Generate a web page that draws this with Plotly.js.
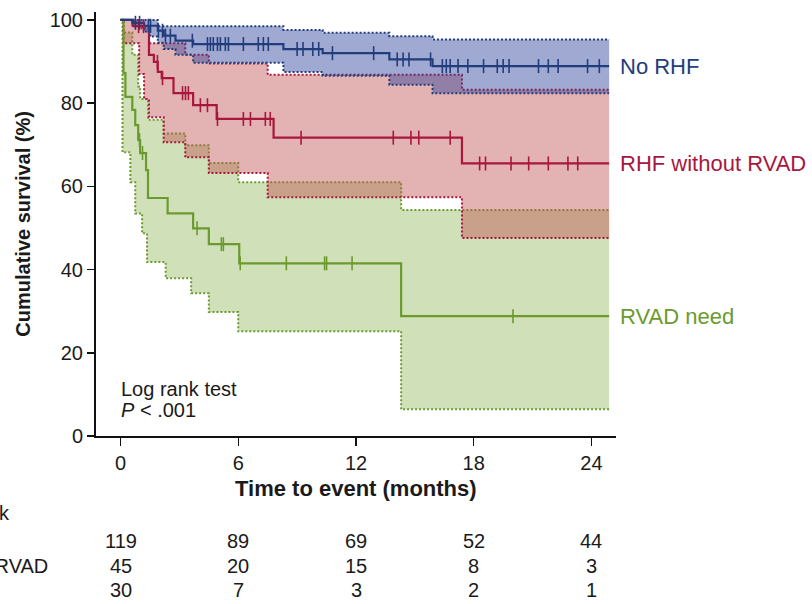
<!DOCTYPE html>
<html>
<head>
<meta charset="utf-8">
<script src="https://cdn.plot.ly/plotly-3.0.1.min.js"></script>
<style>html,body{margin:0;padding:0;background:#fff;}#chart{width:812px;height:604px;}</style>
</head>
<body>
<div id="chart"></div>
<script>
// ---- data (months, cumulative survival %) ----
const noRhfTime = [0, 0.6, 1.2, 1.9, 2.2, 2.8, 3.7, 8.3, 10.3, 13.7, 15.9, 24.9];
const noRhfSurv = [100, 99.3, 98.6, 97.4, 96.2, 95.0, 94.2, 93.0, 92.0, 90.5, 88.9, 88.9];
const noRhfUpperTime = [0, 1.9, 8.3, 10.3, 13.7, 15.9, 24.9];
const noRhfUpper = [100, 98.5, 97.6, 96.9, 96.1, 95.3, 95.3];
const noRhfLowerTime = [0, 0.6, 1.2, 1.5, 1.9, 2.2, 2.8, 3.7, 8.3, 10.3, 13.7, 15.9, 24.9];
const noRhfLower = [100, 98.5, 97.2, 96.0, 94.5, 93.0, 91.6, 89.7, 87.5, 86.6, 84.4, 82.4, 82.4];
const noRhfCensor = [0.76, 0.97, 1.42, 1.53, 1.93, 2.14, 2.29, 2.54, 3.66, 4.43, 4.58, 4.73, 4.94, 5.09, 5.34, 5.5, 6.26, 7.02, 7.28, 7.53, 9.0, 9.3, 9.8, 10.1, 10.8, 12.9, 14.1, 14.4, 14.7, 15.8, 16.4, 16.6, 16.8, 17.2, 17.7, 18.5, 19.2, 19.5, 19.8, 21.3, 21.8, 22.3, 23.8, 24.4];

const rhfTime = [0, 0.65, 1.45, 1.7, 1.9, 2.1, 2.7, 3.7, 4.9, 7.8, 17.4, 24.9];
const rhfSurv = [100, 98.5, 91.6, 89.9, 87.5, 86.0, 82.4, 79.5, 76.2, 71.7, 65.5, 65.5];
const rhfUpperTime = [0, 0.65, 1.1, 1.45, 3.3, 4.5, 7.5, 17.4, 24.9];
const rhfUpper = [100, 99.5, 98.0, 94.4, 91.6, 89.5, 86.8, 83.2, 83.2];
const rhfLowerTime = [0, 0.15, 0.95, 1.2, 1.45, 2.2, 3.3, 4.5, 7.5, 17.4, 24.9];
const rhfLower = [100, 94.4, 87.0, 81.0, 76.6, 70.6, 67.0, 63.2, 57.4, 47.6, 47.6];
const rhfCensor = [0.92, 1.17, 1.88, 2.14, 3.16, 3.31, 3.46, 4.07, 4.43, 4.94, 6.26, 6.62, 7.38, 7.63, 9.2, 13.9, 14.8, 15.2, 16.8, 18.3, 18.6, 19.9, 20.8, 21.8, 22.8, 23.3];

const rvadTime = [0, 0.15, 0.25, 0.6, 0.75, 0.9, 1.0, 1.3, 1.4, 2.4, 3.7, 4.5, 6.05, 14.3, 24.9];
const rvadSurv = [100, 87.2, 81.5, 78.4, 74.7, 71.1, 68.0, 63.9, 57.2, 53.5, 49.9, 46.1, 41.5, 28.8, 28.8];
const rvadUpperTime = [0, 0.15, 0.6, 0.9, 1.0, 1.4, 2.2, 3.3, 4.5, 6.0, 14.3, 24.9];
const rvadUpper = [100, 97.0, 91.6, 84.0, 81.0, 76.0, 72.7, 69.9, 65.6, 61.0, 54.3, 54.3];
const rvadLowerTime = [0, 0.1, 0.5, 0.75, 1.1, 1.35, 2.3, 3.6, 4.5, 6.0, 14.3, 24.9];
const rvadLower = [100, 68.2, 61.0, 53.5, 48.7, 41.8, 37.9, 34.3, 29.8, 25.2, 6.4, 6.4];
const rvadCensor = [0.97, 1.12, 3.9, 5.14, 5.24, 6.1, 8.45, 10.4, 10.5, 11.8, 20.0];

const groupNames = ["No RHF", "RHF without RVAD", "RVAD need"];
const riskTimes = [0, 6, 12, 18, 24];
const riskNoRhf = [119, 89, 69, 52, 44];
const riskRhf = [45, 20, 15, 8, 3];
const riskRvad = [30, 7, 3, 2, 1];
const xTicks = [0, 6, 12, 18, 24];
const yTicks = [0, 20, 40, 60, 80, 100];

// ---- styling ----
const FONT = "Liberation Sans, Arial, Helvetica, sans-serif";
const cBlue = "#223d7c", cRed = "#a8173d", cGreen = "#6b9a2e";
const fBlue = "rgba(45,65,155,0.45)", fRed = "rgba(192,85,85,0.45)", fGreen = "rgba(150,186,100,0.45)";

function stepAt(ts, vs, t) {
  let v = vs[0];
  for (let i = 0; i < ts.length; i++) { if (ts[i] <= t) v = vs[i]; }
  return v;
}

function band(ut, uv, lt, lv, lineColor, fillColor) {
  return [
    {x: ut, y: uv, type: "scatter", mode: "lines", line: {shape: "hv", color: lineColor, width: 2, dash: "2px,2px"}, hoverinfo: "skip"},
    {x: lt, y: lv, type: "scatter", mode: "lines", fill: "tonexty", fillcolor: fillColor, line: {shape: "hv", color: lineColor, width: 2, dash: "2px,2px"}, hoverinfo: "skip"}
  ];
}
function curve(t, s, color) {
  return {x: t, y: s, type: "scatter", mode: "lines", line: {shape: "hv", color: color, width: 2.2}};
}
function censor(ct, t, s, color) {
  return {x: ct, y: ct.map(c => stepAt(t, s, c)), type: "scatter", mode: "markers",
    marker: {symbol: "line-ns", size: 10, color: color, line: {color: color, width: 1.6}}};
}

const traces = [].concat(
  band(rvadUpperTime, rvadUpper, rvadLowerTime, rvadLower, cGreen, fGreen),
  band(rhfUpperTime, rhfUpper, rhfLowerTime, rhfLower, cRed, fRed),
  band(noRhfUpperTime, noRhfUpper, noRhfLowerTime, noRhfLower, cBlue, fBlue),
  [curve(rvadTime, rvadSurv, cGreen), curve(rhfTime, rhfSurv, cRed), curve(noRhfTime, noRhfSurv, cBlue),
   censor(rvadCensor, rvadTime, rvadSurv, cGreen), censor(rhfCensor, rhfTime, rhfSurv, cRed), censor(noRhfCensor, noRhfTime, noRhfSurv, cBlue)]
);

const ann = [];
// group labels at right, at final survival value
[[groupNames[0], noRhfSurv, cBlue], [groupNames[1], rhfSurv, cRed], [groupNames[2], rvadSurv, cGreen]].forEach(g => {
  ann.push({xref: "paper", yref: "y", x: 1.003, y: g[1][g[1].length - 1], text: g[0], showarrow: false,
    xanchor: "left", yanchor: "middle", font: {family: FONT, size: 22, color: g[2]}});
});
ann.push({xref: "x", yref: "paper", x: -0.1, y: 0.112, text: "Log rank test", showarrow: false, xanchor: "left", yanchor: "middle",
  font: {family: FONT, size: 20, color: "#1a1a1a"}});
ann.push({xref: "x", yref: "paper", x: -0.1, y: 0.061, text: "<i>P</i> < .001", showarrow: false, xanchor: "left", yanchor: "middle",
  font: {family: FONT, size: 20, color: "#1a1a1a"}});
// axis titles
ann.push({xref: "paper", yref: "paper", x: 0.5, y: -0.1234, text: "<b>Time to event (months)</b>", showarrow: false,
  xanchor: "center", yanchor: "middle", font: {family: FONT, size: 22, color: "#1a1a1a"}});
ann.push({xref: "paper", yref: "paper", x: -0.141, y: 0.5, text: "<b>Cumulative survival (%)</b>", showarrow: false, textangle: -90,
  xanchor: "center", yanchor: "middle", font: {family: FONT, size: 20, color: "#1a1a1a"}});
// number at risk table (row labels run off the left edge, as in the source)
ann.push({xref: "paper", yref: "paper", x: -0.422, y: -0.1824, text: "Number at risk", showarrow: false, xanchor: "left", yanchor: "middle",
  font: {family: FONT, size: 20, color: "#1a1a1a"}});
const rowY = [-0.2485, -0.3075, -0.3642];
[riskNoRhf, riskRhf, riskRvad].forEach((row, r) => {
  ann.push({xref: "paper", yref: "paper", x: -0.422, y: rowY[r], text: groupNames[r], showarrow: false, xanchor: "left", yanchor: "middle",
    font: {family: FONT, size: 20, color: "#1a1a1a"}});
  row.forEach((n, i) => {
    ann.push({xref: "x", yref: "paper", x: riskTimes[i], y: rowY[r], text: String(n), showarrow: false, xanchor: "center", yanchor: "middle",
      font: {family: FONT, size: 20, color: "#1a1a1a"}});
  });
});

const layout = {
  width: 812, height: 604,
  margin: {l: 95.5, r: 196, t: 12, b: 168.3, pad: 0},
  paper_bgcolor: "#fff", plot_bgcolor: "#fff",
  showlegend: false,
  font: {family: FONT, size: 20, color: "#1a1a1a"},
  xaxis: {range: [-1.25, 25.25], tickvals: xTicks, ticks: "outside", ticklen: 8, tickwidth: 1.5, tickcolor: "#111",
    showline: true, linecolor: "#111", linewidth: 2, showgrid: false, zeroline: false,
    tickfont: {family: FONT, size: 20, color: "#1a1a1a"}},
  yaxis: {range: [0, 101.9], tickvals: yTicks, ticks: "outside", ticklen: 7, tickwidth: 1.5, tickcolor: "#111",
    showline: true, linecolor: "#111", linewidth: 2, showgrid: false, zeroline: false,
    tickfont: {family: FONT, size: 20, color: "#1a1a1a"}},
  annotations: ann
};

Plotly.newPlot("chart", traces, layout, {displayModeBar: false, staticPlot: true});
</script>
</body>
</html>
